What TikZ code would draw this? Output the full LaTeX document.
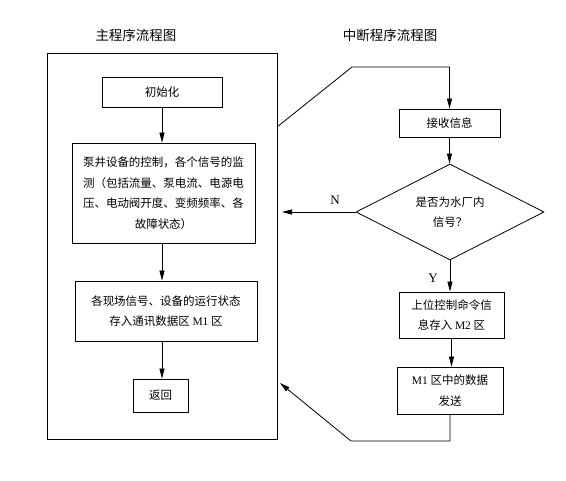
\documentclass[tikz,border=0pt]{standalone}
\usepackage{fontspec}
\setmainfont{Liberation Serif}
\newfontfamily\cjk{Noto Sans CJK SC}
\usetikzlibrary{shapes.geometric,arrows.meta}

\begin{document}
\begin{tikzpicture}[x=1pt,y=-1pt,line width=0.8pt,
  txt/.style={font=\cjk\fontsize{11.5}{20.5}\selectfont},
  ttl/.style={font=\cjk\fontsize{13.5}{16}\selectfont},
  blk/.style={draw,txt,align=center,inner sep=0pt},
  arr/.style={-{Triangle[length=10pt,width=5pt]}}]
  \useasboundingbox (0,0) rectangle (566,481);

  % titles
  \node[ttl] (mtitle) at (136,35) {主程序流程图};
  \node[ttl] (ititle) at (390,35) {中断程序流程图};

  % main program
  \node[draw,minimum width=230pt,minimum height=386pt,inner sep=0pt] (mainbox) at (162,246) {};
  \node[blk,minimum width=120pt,minimum height=30pt] (init) at (162,92) {初始化};
  \node[blk,minimum width=183pt,minimum height=100pt] (ctrl) at (163.5,193)
    {泵井设备的控制，各个信号的监\\测（包括流量、泵电流、电源电\\压、电动阀开度、变频频率、各\\故障状态）};
  \node[blk,minimum width=182pt,minimum height=60pt] (save) at (166,311)
    {各现场信号、设备的运行状态\\存入通讯数据区 {\rmfamily M1} 区};
  \node[blk,minimum width=55pt,minimum height=33pt] (ret) at (160.5,395.5) {返回};

  \draw[arr] (init.south) -- (init.south |- ctrl.north);
  \draw[arr] (init.south |- ctrl.south) -- (init.south |- save.north);
  \draw[arr] (init.south |- save.south) -- (init.south |- ret.north);

  % interrupt program
  \node[blk,minimum width=101pt,minimum height=28pt] (recv) at (449.5,123) {接收信息};
  \node[draw,diamond,aspect=2,txt,align=center,inner sep=0pt,
        minimum width=188pt,minimum height=96pt] (judge) at (450,212) {是否为水厂内\\信号？};
  \node[blk,minimum width=105pt,minimum height=46pt] (m2) at (451.5,315)
    {上位控制命令信\\息存入 {\rmfamily M2} 区};
  \node[blk,minimum width=106pt,minimum height=47pt] (send) at (450,390.5)
    {{\rmfamily M1} 区中的数据\\发送};

  \coordinate (fromMain) at (277,127);
  \coordinate (bend1) at (352,67);
  \coordinate (noEnd) at (282,212);
  \coordinate (back2) at (351,441);
  \coordinate (backEnd) at (280,383);

  \draw[arr] (fromMain) -- (bend1) -| (recv.north);
  \draw[arr] (recv.south) -- (recv.south |- judge.north);
  \draw[arr] (judge.west) -- (noEnd);
  \node[font=\fontsize{13}{15}\selectfont] (nlab) at (335,200) {N};
  \draw[arr] (judge.south) -- (judge.south |- m2.north);
  \node[font=\fontsize{13}{15}\selectfont] (ylab) at (433,278) {Y};
  \draw[arr] (m2.south) -- (m2.south |- send.north);
  \draw[arr] (send.south) |- (back2) -- (backEnd);
\end{tikzpicture}
\end{document}
